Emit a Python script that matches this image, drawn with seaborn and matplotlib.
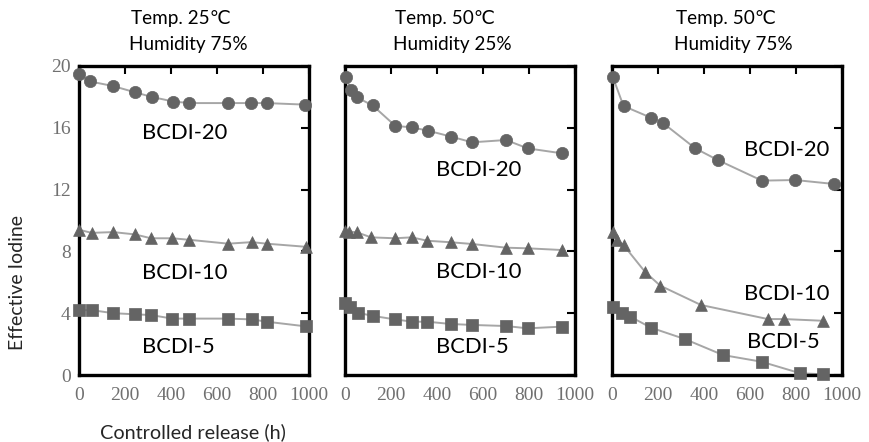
import numpy as np
import pandas as pd
import matplotlib
matplotlib.use("Agg")
import matplotlib.pyplot as plt
import seaborn as sns

# ---- data: effective iodine (%) vs controlled-release time (h) ----
title_temps = ["Temp. 25\u2103", "Temp. 50\u2103", "Temp. 50\u2103"]
title_hums = ["Humidity 75%", "Humidity 25%", "Humidity 75%"]
series_names = ["BCDI-20", "BCDI-10", "BCDI-5"]

# panel 1: 25 C / 75 %
p1_t20 = [0, 48, 149, 243, 316, 410, 480, 649, 746, 816, 983]
p1_y20 = [19.5, 19.0, 18.7, 18.3, 18.0, 17.7, 17.6, 17.6, 17.6, 17.6, 17.5]
p1_t10 = [0, 55, 149, 243, 313, 406, 480, 649, 751, 816, 985]
p1_y10 = [9.4, 9.2, 9.25, 9.1, 8.85, 8.85, 8.75, 8.5, 8.6, 8.5, 8.3]
p1_t5 = [0, 55, 149, 243, 313, 406, 480, 649, 751, 816, 985]
p1_y5 = [4.2, 4.2, 4.0, 3.93, 3.88, 3.65, 3.65, 3.65, 3.6, 3.45, 3.15]

# panel 2: 50 C / 25 %
p2_t20 = [4, 26, 51, 120, 219, 291, 362, 461, 553, 700, 794, 942]
p2_y20 = [19.3, 18.45, 17.97, 17.45, 16.12, 16.03, 15.81, 15.43, 15.06, 15.21, 14.67, 14.35]
p2_t10 = [0, 19, 51, 113, 217, 290, 358, 461, 553, 700, 794, 942]
p2_y10 = [9.34, 9.28, 9.24, 8.91, 8.85, 8.91, 8.69, 8.59, 8.48, 8.24, 8.2, 8.09]
p2_t5 = [0, 22, 55, 123, 217, 293, 358, 461, 553, 700, 794, 942]
p2_y5 = [4.68, 4.38, 4.03, 3.82, 3.6, 3.45, 3.45, 3.3, 3.24, 3.17, 3.02, 3.13]

# panel 3: 50 C / 75 %
p3_t20 = [3, 50, 170, 220, 362, 459, 652, 797, 967]
p3_y20 = [19.31, 17.41, 16.65, 16.33, 14.67, 13.92, 12.58, 12.62, 12.36]
p3_t10 = [3, 22, 50, 145, 210, 387, 678, 749, 916]
p3_y10 = [9.28, 8.74, 8.41, 6.65, 5.78, 4.53, 3.62, 3.62, 3.51]
p3_t5 = [3, 43, 80, 170, 316, 483, 650, 819, 916]
p3_y5 = [4.38, 3.99, 3.77, 3.06, 2.33, 1.29, 0.86, 0.11, 0.05]

x_ticks = [0, 200, 400, 600, 800, 1000]
y_ticks = [0, 4, 8, 12, 16, 20]

panels = [
    [(p1_t20, p1_y20), (p1_t10, p1_y10), (p1_t5, p1_y5)],
    [(p2_t20, p2_y20), (p2_t10, p2_y10), (p2_t5, p2_y5)],
    [(p3_t20, p3_y20), (p3_t10, p3_y10), (p3_t5, p3_y5)],
]

rows = []
for pi, panel in enumerate(panels):
    for name, (t, y) in zip(series_names, panel):
        for ti, yi in zip(t, y):
            rows.append({"panel": pi, "series": name, "time": ti, "iodine": yi})
df = pd.DataFrame(rows)

# ---- style ----
sns.set_theme(style="white")
plt.rcParams["font.family"] = ["Lato", "DejaVu Sans"]

markers = {"BCDI-20": "o", "BCDI-10": "^", "BCDI-5": "s"}
marker_sizes = {"BCDI-20": 78, "BCDI-10": 72, "BCDI-5": 64}
marker_color = "#646464"
line_color = "#a6a6a6"
tick_color = "#707070"

# label positions in axes fraction (left edge, vertical center)
label_pos = [
    {"BCDI-20": (0.272, 0.783), "BCDI-10": (0.272, 0.330), "BCDI-5": (0.272, 0.091)},
    {"BCDI-20": (0.395, 0.663), "BCDI-10": (0.395, 0.333), "BCDI-5": (0.395, 0.091)},
    {"BCDI-20": (0.572, 0.728), "BCDI-10": (0.572, 0.262), "BCDI-5": (0.585, 0.107)},
]
title_x = [0.226, 0.217, 0.278]

fig = plt.figure(figsize=(8.69, 4.42), dpi=100)
lefts = [79 / 869, 345 / 869, 612 / 869]
bottom = 67 / 442
width = 230 / 869
height = 309 / 442

for pi in range(3):
    ax = fig.add_axes([lefts[pi], bottom, width, height])
    sub = df[df["panel"] == pi]
    for name in series_names:
        s = sub[sub["series"] == name]
        sns.lineplot(data=s, x="time", y="iodine", ax=ax, color=line_color,
                     linewidth=1.4, estimator=None, sort=True, legend=False, zorder=2)
        sns.scatterplot(data=s, x="time", y="iodine", ax=ax, marker=markers[name],
                        s=marker_sizes[name], color=marker_color, edgecolor=marker_color,
                        linewidth=0.5, legend=False, zorder=3, clip_on=False)
        lx, ly = label_pos[pi][name]
        ax.text(lx, ly, name, transform=ax.transAxes, ha="left", va="center",
                fontsize=15.8, color="black")

    ax.set_xlim(0, 1000)
    ax.set_ylim(0, 20)
    ax.set_xticks(x_ticks)
    ax.set_yticks(y_ticks)
    ax.set_xlabel("")
    ax.set_ylabel("")
    ax.tick_params(axis="x", pad=9)
    ax.tick_params(axis="y", pad=6)
    ax.tick_params(axis="both", which="major", direction="in", length=6, width=1.5,
                   color="black", top=True, right=True, labelsize=14,
                   labelcolor=tick_color)
    for lab in ax.get_xticklabels() + ax.get_yticklabels():
        lab.set_fontfamily(["Liberation Serif", "DejaVu Serif"])
    if pi > 0:
        ax.set_yticklabels([])
    for sp in ax.spines.values():
        sp.set_visible(True)
        sp.set_color("black")
        sp.set_linewidth(2.4)
        sp.set_zorder(2.5)
    ax.text(title_x[pi], 1.155, title_temps[pi], transform=ax.transAxes, ha="left",
            va="center", fontsize=13.6, color="black")
    ax.text(title_x[pi] - 0.008, 1.071, title_hums[pi], transform=ax.transAxes, ha="left",
            va="center", fontsize=13.6, color="black")

fig.text(18 / 869, 1 - 283 / 442, "Effective Iodine", rotation=90, ha="center",
         va="center", fontsize=14)
fig.text(193 / 869, 1 - 432 / 442, "Controlled release (h)", ha="center",
         va="center", fontsize=14.3)

fig.savefig("out.png", dpi=100)
